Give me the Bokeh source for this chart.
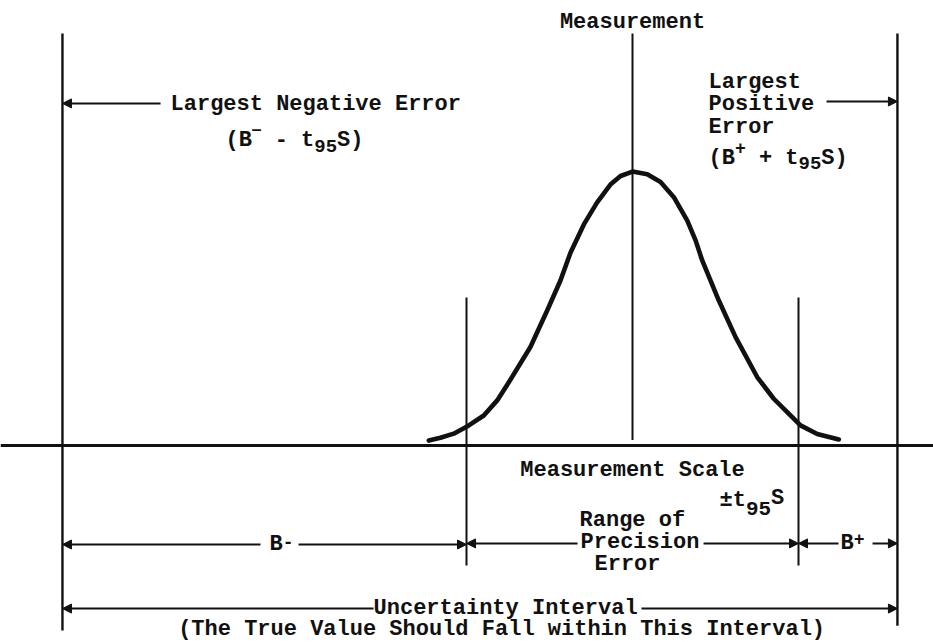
from bokeh.plotting import figure
from bokeh.models import Range1d, Arrow, NormalHead
from bokeh.core.properties import value
from bokeh.embed import file_html
from bokeh.resources import INLINE

# ---- structure of the diagram, in units of the precision half-range t95*S ----
measurement = 0.0
t95S = 1.0
B_minus = 2.434
B_plus = 0.596

# normal curve (x in t95S units, y relative to peak height)
curve_x = [-1.227, -1.157, -1.077, -0.986, -0.896, -0.815, -0.745, -0.615, -0.514,
           -0.434, -0.373, -0.293, -0.213, -0.133, -0.072, 0.0, 0.089, 0.169,
           0.249, 0.330, 0.380, 0.420, 0.520, 0.621, 0.751, 0.851, 0.932, 1.012,
           1.113, 1.243]
curve_y = [0.018, 0.028, 0.043, 0.073, 0.109, 0.164, 0.230, 0.358, 0.491,
           0.600, 0.702, 0.804, 0.884, 0.949, 0.980, 0.996, 0.986, 0.958,
           0.903, 0.818, 0.746, 0.673, 0.527, 0.394, 0.249, 0.170, 0.121, 0.073,
           0.042, 0.022]

left_edge = measurement - t95S - B_minus
right_edge = measurement + t95S + B_plus
prec_lo = measurement - t95S
prec_hi = measurement + t95S

FONT = value("Liberation Mono")
PXU = 166.0   # screen pixels per x unit
PYU = 275.0   # screen pixels per y unit
INK = "#111111"

p = figure(width=933, height=642, output_backend="svg", toolbar_location=None,
           x_range=Range1d(-632 / PXU, 301 / PXU), y_range=Range1d(-197 / PYU, 445 / PYU),
           min_border=0)
p.axis.visible = False
p.grid.visible = False
p.outline_line_color = None
p.background_fill_color = "white"

# horizontal measurement scale
p.line([-632 / PXU, 301 / PXU], [0.0, 0.0], line_color=INK, line_width=3.2)

# outer verticals
p.line([left_edge, left_edge], [1.498, -0.673], line_color=INK, line_width=2.4)
p.line([right_edge, right_edge], [1.498, -0.655], line_color=INK, line_width=2.4)
# measurement line
p.line([measurement, measurement], [1.498, 0.02], line_color=INK, line_width=2.0)
# precision limits
p.line([prec_lo, prec_lo], [0.538, -0.436], line_color=INK, line_width=2.0)
p.line([prec_hi, prec_hi], [0.538, -0.436], line_color=INK, line_width=2.0)

# distribution curve
p.line(curve_x, curve_y, line_color=INK, line_width=4.6, line_join="round", line_cap="round")


def arrow(x0, x1, y):
    p.add_layout(Arrow(end=NormalHead(size=9, fill_color=INK, line_color=INK, line_width=1),
                       x_start=x0, y_start=y, x_end=x1, y_end=y,
                       line_color=INK, line_width=2))


# top arrows
arrow(-2.843, left_edge, 1.244)
arrow(1.169, right_edge, 1.251)
# B- row
arrow(-2.241, left_edge, -0.360)
arrow(-2.012, prec_lo, -0.360)
# precision row
arrow(-0.331, prec_lo, -0.356)
arrow(0.428, prec_hi, -0.356)
# B+ row
arrow(1.241, prec_hi, -0.356)
arrow(1.446, right_edge, -0.356)
# uncertainty row
arrow(-1.560, left_edge, -0.593)
arrow(0.054, right_edge, -0.593)


def rich(x, y, runs, align="left"):
    """runs: (text, font px, raise px) laid out with monospace advances."""
    width = sum(len(t) * 0.6 * s for t, s, _ in runs)
    x0 = x - (width / 2 / PXU if align == "center" else 0)
    for t, s, dy in runs:
        lead = len(t) - len(t.lstrip(" "))
        body = t.strip(" ")
        if body:
            p.text(x=[x0 + lead * 0.6 * s / PXU], y=[y + dy / PYU], text=[body],
                   text_font=FONT, text_font_size=f"{s}px", text_font_style="bold",
                   text_align="left", text_baseline="middle", text_color=INK)
        x0 += len(t) * 0.6 * s / PXU


def label(x, y, s, align="left"):
    rich(x, y, [(s, 22, 0)], align)


label(measurement, 1.538, "Measurement", "center")
label(-2.783, 1.240, "Largest Negative Error")
rich(-2.452, 1.109, [("(B", 22, 0), ("\u2012", 16, 10), (" - t", 22, 0),
                     ("95", 19, -5), ("S)", 22, 0)])
label(0.458, 1.320, "Largest")
label(0.458, 1.240, "Positive")
label(0.458, 1.156, "Error")
rich(0.458, 1.044, [("(B", 22, 0), ("+", 18, 10), (" + t", 22, 0),
                    ("95", 19, -5), ("S)", 22, 0)])
label(measurement, -0.091, "Measurement Scale", "center")
rich(0.524, -0.200, [("\u00b1t", 22, 0), ("95", 21, -8), ("S", 22, 2)])
label(-0.319, -0.273, "Range of")
label(-0.313, -0.353, "Precision")
label(-0.229, -0.433, "Error")
rich(-2.114, -0.360, [("B", 22, 0), ("-", 18, 3)], "center")
rich(1.325, -0.356, [("B", 22, 0), ("+", 18, 4)], "center")
label(-1.560, -0.593, "Uncertainty Interval")
label(-0.789, -0.669, "(The True Value Should Fall within This Interval)", "center")

open("out.html", "w").write(file_html(p, INLINE))
